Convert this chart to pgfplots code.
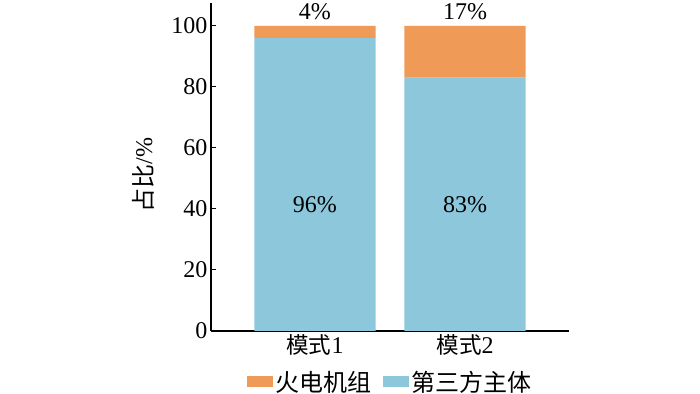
\documentclass[border=0pt]{standalone}
\usepackage{fontspec}
\setmainfont{Liberation Serif}
\newfontfamily\cjk{Noto Sans CJK SC}
\newfontfamily\cjks{Noto Sans CJK SC}[Scale=0.94]
\usepackage{pgfplots}
\pgfplotsset{compat=1.18}
\definecolor{cOrange}{RGB}{239,154,86}
\definecolor{cBlue}{RGB}{141,199,219}
\begin{document}
\begin{tikzpicture}
\useasboundingbox (0,0) rectangle (700pt,393pt);
\begin{axis}[
  at={(211pt,62pt)}, anchor=south west,
  scale only axis, width=358pt, height=328pt,
  font=\fontsize{24}{28}\selectfont,
  /pgf/number format/assume math mode=true,
  ybar stacked, bar width=0.807,
  xmin=-0.693, xmax=1.693, ymin=0, ymax=107.5,
  xtick={0,1}, xticklabels={{\cjks 模式}1,{\cjks 模式}2},
  ytick={0,20,40,60,80,100},
  axis x line*=bottom, axis y line*=left,
  axis line style={line width=1.2pt, -},
  tick style={line width=1pt, black}, tick align=inside,
  major tick length=5pt,
  ylabel={{\cjk 占比}/\%},
  ylabel style={at={(axis description cs:-0.19,0.476)}, anchor=center},
  legend columns=2, reverse legend,
  legend style={at={(0.5,-0.115)}, anchor=north, draw=none, fill=none,
    /tikz/every even column/.append style={column sep=10pt},
    inner sep=0pt, font=\fontsize{24}{28}\selectfont\cjk},
  clip=false,
]
\addplot[fill=cBlue, draw=none, legend image code/.code={\fill[cBlue] (0pt,-5.5pt) rectangle (26pt,5.5pt);}] coordinates {(0,96) (1,83)};
\addplot[fill=cOrange, draw=none, legend image code/.code={\fill[cOrange] (0pt,-5.5pt) rectangle (26pt,5.5pt);}] coordinates {(0,4) (1,17)};
\legend{第三方主体,火电机组}
\coordinate (t1) at (axis cs:0,104.6);
\coordinate (t2) at (axis cs:1,104.6);
\coordinate (m1) at (axis cs:0,41.5);
\coordinate (m2) at (axis cs:1,41.5);
\end{axis}
\begin{scope}[font=\fontsize{24}{28}\selectfont]
\node at (t1) {4\%};
\node at (t2) {17\%};
\node at (m1) {96\%};
\node at (m2) {83\%};
\end{scope}
\end{tikzpicture}
\end{document}
